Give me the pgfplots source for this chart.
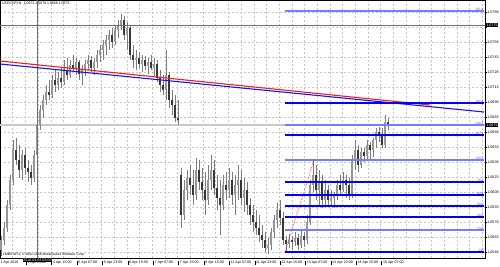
\documentclass[border=0pt]{standalone}
\usepackage{pgfplots}
\pgfplotsset{compat=1.18}
\usepackage{pgfplotstable}
\usepackage{fontspec}
\setmainfont{Liberation Sans}
\definecolor{wick}{RGB}{125,125,125}
\definecolor{upbody}{RGB}{150,150,150}
\definecolor{dnbody}{RGB}{55,55,55}
\definecolor{fibdark}{RGB}{0,0,255}
\definecolor{fiblight}{RGB}{115,125,255}
\definecolor{fibtext}{RGB}{90,90,235}
\definecolor{bidgray}{RGB}{200,200,205}
\definecolor{hlgray}{RGB}{110,110,110}
\definecolor{trred}{RGB}{240,30,30}
\definecolor{trblue}{RGB}{20,20,240}
\newcommand{\sep}{\rule[-0.6pt]{0.4pt}{4pt}\hspace{1.2pt}}

\pgfplotstableread{
x o h l c
1 1.0550 1.0564 1.0544 1.0560
4 1.0560 1.0578 1.0555 1.0572
7 1.0572 1.0600 1.0568 1.0595
10 1.0595 1.0625 1.0590 1.0620
13 1.0620 1.0660 1.0615 1.0650
16 1.0650 1.0662 1.0635 1.0640
19 1.0640 1.0655 1.0622 1.0630
22 1.0630 1.0650 1.0620 1.0645
25 1.0645 1.0652 1.0625 1.0632
28 1.0632 1.0640 1.0618 1.0628
31 1.0628 1.0635 1.0615 1.0622
34 1.0622 1.0650 1.0618 1.0645
37 1.0645 1.0680 1.0642 1.0675
40 1.0675 1.0695 1.0670 1.0690
43 1.0690 1.0705 1.0682 1.0700
46 1.0700 1.0715 1.0695 1.0708
49 1.0708 1.0720 1.0700 1.0705
52 1.0705 1.0725 1.0702 1.0720
55 1.0720 1.0730 1.0708 1.0715
58 1.0715 1.0728 1.0710 1.0722
61 1.0722 1.0732 1.0712 1.0718
64 1.0718 1.0740 1.0715 1.0730
67 1.0730 1.0742 1.0720 1.0725
70 1.0725 1.0740 1.0722 1.0735
73 1.0735 1.0745 1.0728 1.0732
76 1.0732 1.0742 1.0725 1.0738
79 1.0738 1.0740 1.0720 1.0726
82 1.0726 1.0735 1.0715 1.0730
85 1.0730 1.0740 1.0724 1.0736
88 1.0736 1.0745 1.0730 1.0740
91 1.0740 1.0744 1.0728 1.0732
94 1.0732 1.0742 1.0725 1.0738
97 1.0738 1.0750 1.0732 1.0745
100 1.0745 1.0755 1.0738 1.0750
103 1.0750 1.0760 1.0740 1.0755
106 1.0755 1.0765 1.0745 1.0760
109 1.0760 1.0770 1.0750 1.0765
112 1.0765 1.0772 1.0752 1.0758
115 1.0758 1.0775 1.0755 1.0770
118 1.0770 1.0780 1.0762 1.0775
121 1.0775 1.0786 1.0770 1.0780
124 1.0780 1.0784 1.0760 1.0765
127 1.0765 1.0778 1.0750 1.0772
130 1.0772 1.0775 1.0740 1.0745
133 1.0745 1.0755 1.0732 1.0740
136 1.0740 1.0750 1.0730 1.0742
139 1.0742 1.0748 1.0732 1.0736
142 1.0736 1.0745 1.0728 1.0740
145 1.0740 1.0744 1.0730 1.0734
148 1.0734 1.0742 1.0726 1.0738
151 1.0738 1.0745 1.0730 1.0732
154 1.0732 1.0742 1.0724 1.0736
157 1.0736 1.0740 1.0718 1.0722
160 1.0722 1.0730 1.0708 1.0715
163 1.0715 1.0725 1.0705 1.0710
166 1.0710 1.0750 1.0700 1.0725
169 1.0725 1.0728 1.0692 1.0700
172 1.0700 1.0710 1.0685 1.0695
175 1.0695 1.0705 1.0678 1.0682
178 1.0682 1.0700 1.0675 1.0680
181 1.0625 1.0632 1.0572 1.0585
184 1.0585 1.0620 1.0580 1.0610
187 1.0610 1.0630 1.0600 1.0622
190 1.0622 1.0635 1.0605 1.0615
193 1.0615 1.0630 1.0595 1.0605
196 1.0605 1.0642 1.0600 1.0630
199 1.0630 1.0640 1.0610 1.0618
202 1.0618 1.0632 1.0600 1.0610
205 1.0610 1.0628 1.0585 1.0600
208 1.0600 1.0635 1.0595 1.0620
211 1.0620 1.0645 1.0610 1.0630
214 1.0630 1.0640 1.0605 1.0612
217 1.0612 1.0625 1.0590 1.0602
220 1.0602 1.0620 1.0565 1.0595
223 1.0595 1.0625 1.0590 1.0615
226 1.0615 1.0628 1.0600 1.0610
229 1.0610 1.0632 1.0602 1.0620
232 1.0620 1.0628 1.0595 1.0605
235 1.0605 1.0625 1.0585 1.0615
238 1.0615 1.0635 1.0600 1.0620
241 1.0620 1.0630 1.0595 1.0602
244 1.0602 1.0622 1.0588 1.0610
247 1.0610 1.0618 1.0585 1.0595
250 1.0595 1.0602 1.0575 1.0585
253 1.0585 1.0595 1.0568 1.0578
256 1.0578 1.0590 1.0565 1.0572
259 1.0572 1.0585 1.0558 1.0565
262 1.0565 1.0575 1.0552 1.0560
265 1.0560 1.0568 1.0548 1.0552
268 1.0552 1.0562 1.0546 1.0555
271 1.0555 1.0572 1.0550 1.0568
274 1.0568 1.0585 1.0562 1.0580
277 1.0580 1.0597 1.0572 1.0590
280 1.0590 1.0600 1.0575 1.0582
283 1.0582 1.0588 1.0555 1.0560
286 1.0560 1.0564 1.0548 1.0556
289 1.0556 1.0566 1.0552 1.0560
292 1.0560 1.0564 1.0550 1.0558
295 1.0558 1.0568 1.0554 1.0562
298 1.0562 1.0566 1.0550 1.0555
301 1.0555 1.0570 1.0552 1.0564
304 1.0564 1.0568 1.0553 1.0560
307 1.0560 1.0585 1.0556 1.0578
310 1.0578 1.0620 1.0575 1.0615
313 1.0615 1.0640 1.0608 1.0625
316 1.0625 1.0635 1.0600 1.0610
319 1.0610 1.0630 1.0595 1.0618
322 1.0618 1.0625 1.0592 1.0600
325 1.0600 1.0620 1.0594 1.0610
328 1.0610 1.0615 1.0595 1.0600
331 1.0600 1.0610 1.0593 1.0602
334 1.0602 1.0608 1.0592 1.0605
337 1.0605 1.0620 1.0600 1.0615
340 1.0615 1.0625 1.0605 1.0610
343 1.0610 1.0628 1.0608 1.0620
346 1.0620 1.0625 1.0602 1.0615
349 1.0615 1.0622 1.0600 1.0605
352 1.0605 1.0645 1.0602 1.0640
355 1.0640 1.0660 1.0630 1.0650
358 1.0650 1.0655 1.0628 1.0635
361 1.0635 1.0652 1.0632 1.0648
364 1.0648 1.0652 1.0638 1.0644
367 1.0644 1.0660 1.0640 1.0655
370 1.0655 1.0658 1.0640 1.0650
373 1.0650 1.0662 1.0643 1.0660
376 1.0660 1.0672 1.0652 1.0668
379 1.0668 1.0673 1.0658 1.0665
382 1.0665 1.0672 1.0652 1.0655
385 1.0655 1.0685 1.0652 1.0678
388 1.0678 1.0682 1.0670 1.0675
}\candles

\begin{document}
\begin{tikzpicture}[font=\fontsize{3.6}{4.2}\selectfont]
\path[use as bounding box, fill=white] (0,0) rectangle (500pt,266pt);
\begin{axis}[
  at={(0pt,8pt)}, anchor=south west,
  scale only axis, width=485pt, height=258pt,
  xmin=0, xmax=485, ymin=1.0542, ymax=1.0800,
  clip=false,
  axis line style={black, line width=0.6pt},
  xtick={0,12.69,25.38,38.07,50.76,63.45,76.14,88.83,101.52,114.21,126.9,139.59,152.28,164.97,177.66,190.35,203.04,215.73,228.42,241.11,253.8,266.49,279.18,291.87,304.56,317.25,329.94,342.63,355.32,368.01,380.7,393.39,406.08,418.77,431.46,444.15,456.84,469.53,482.22},
  xticklabels={{1 Apr 2016},{},{\sep 1 Apr 23:00},{},{\sep 4 Apr 15:00},{},{\sep 5 Apr 07:00},{},{\sep 5 Apr 23:00},{},{\sep 6 Apr 15:00},{},{\sep 7 Apr 07:00},{},{\sep 7 Apr 23:00},{},{\sep 8 Apr 15:00},{},{\sep 11 Apr 07:00},{},{\sep 11 Apr 23:00},{},{\sep 12 Apr 15:00},{},{\sep 13 Apr 07:00},{},{\sep 13 Apr 23:00},{},{\sep 14 Apr 15:00},{},{\sep 15 Apr 07:00},{},{},{},{},{},{},{},{}},
  xtick style={draw=none},
  xticklabel style={anchor=north west, inner sep=0pt, yshift=-0.8pt, xshift=0.5pt},
  ytick={1.0548,1.0563,1.0578,1.0593,1.0608,1.0623,1.0638,1.0653,1.0668,1.0683,1.0698,1.0713,1.0728,1.0743,1.0758,1.0773,1.0788},
  yticklabels={1.0548,1.0563,1.0578,1.0593,1.0608,1.0623,1.0638,1.0653,1.0668,1.0683,1.0698,1.0713,1.0728,1.0743,1.0758,{},1.0788},
  ytick pos=right, yticklabel pos=right,
  ytick style={draw=black, line width=0.4pt},
  tick align=outside, major tick length=1.5pt,
  scaled y ticks=false,
  yticklabel style={anchor=west, inner sep=0.4pt, xshift=0.2pt, font=\fontsize{3.7}{4.2}\selectfont},
  grid=major,
  major grid style={gray!45, dash pattern=on 2pt off 2pt, line width=0.5pt},
]
% bid line
\addplot[bidgray, line width=1.4pt] coordinates {(0,1.0675) (485,1.0675)};
% candles: wicks, up bodies, down bodies
\addplot[draw=none, no marks, error bars/.cd, y dir=minus, y explicit, error mark=none,
  error bar style={draw=wick, line width=0.7pt, line cap=butt}]
  table[x=x, y=h, y error minus expr=\thisrow{h}-\thisrow{l}] {\candles};
\addplot[draw=none, no marks, restrict expr to domain={\thisrow{c}-\thisrow{o}}{0:1},
  error bars/.cd, y dir=minus, y explicit, error mark=none,
  error bar style={draw=upbody, line width=1.8pt, line cap=butt}]
  table[x=x, y=c, y error minus expr=\thisrow{c}-\thisrow{o}] {\candles};
\addplot[draw=none, no marks, restrict expr to domain={\thisrow{o}-\thisrow{c}}{0.000001:1},
  error bars/.cd, y dir=minus, y explicit, error mark=none,
  error bar style={draw=dnbody, line width=1.8pt, line cap=butt}]
  table[x=x, y=o, y error minus expr=\thisrow{o}-\thisrow{c}] {\candles};
% horizontal and vertical line objects
\addplot[hlgray, line width=1pt] coordinates {(0,1.0775) (485,1.0775)};
\addplot[hlgray, line width=0.8pt] coordinates {(37,1.0542) (37,1.0800)};
% trendlines
\addplot[trblue, line width=1.1pt] coordinates {(0,1.0736) (484,1.0688)};
\addplot[trred, line width=1.1pt] coordinates {(0,1.0739) (430,1.0695)};
% fibonacci expansion levels
\addplot[fibdark, line width=1.1pt] coordinates {(285,1.0548) (484,1.0548)};
\addplot[fiblight, line width=1.1pt] coordinates {(285,1.0570) (484,1.0570)};
\addplot[fibdark, line width=1.1pt] coordinates {(285,1.0583) (484,1.0583)};
\addplot[fibdark, line width=1.1pt] coordinates {(285,1.0594) (484,1.0594)};
\addplot[fibdark, line width=1.1pt] coordinates {(285,1.0605) (484,1.0605)};
\addplot[fibdark, line width=1.1pt] coordinates {(285,1.0618) (484,1.0618)};
\addplot[fiblight, line width=1.1pt] coordinates {(285,1.0640) (484,1.0640)};
\addplot[fibdark, line width=1.1pt] coordinates {(285,1.0665) (484,1.0665)};
\addplot[fiblight, line width=1.1pt] coordinates {(285,1.0675) (484,1.0675)};
\addplot[fibdark, line width=1.1pt] coordinates {(285,1.0697) (484,1.0697)};
\addplot[fiblight, line width=1.1pt] coordinates {(285,1.0789) (484,1.0789)};
\addplot[red, densely dotted, line width=0.6pt] coordinates {(285,1.0548) (314,1.0640)};
% fib labels
\begin{scope}[every node/.style={anchor=south east, inner sep=0.3pt, text=fibtext, font=\fontsize{3.2}{3.6}\selectfont}]
\node at (axis cs:484,1.0548) {0.0};
\node at (axis cs:484,1.0570) {23.6};
\node at (axis cs:484,1.0583) {38.2};
\node at (axis cs:484,1.0594) {50.0};
\node at (axis cs:484,1.0605) {61.8};
\node at (axis cs:484,1.0618) {76.4};
\node at (axis cs:484,1.0640) {100.0};
\node at (axis cs:484,1.0665) {127.2};
\node at (axis cs:484,1.0675) {138.2};
\node at (axis cs:484,1.0697) {161.8};
\node at (axis cs:484,1.0789) {261.8};
\end{scope}
% price boxes
\node[anchor=west, fill=black, text=white, inner sep=0.5pt, font=\fontsize{3.7}{4.2}\selectfont] at (axis cs:485.6,1.0775) {1.0775};
\node[anchor=west, fill=black, text=white, inner sep=0.5pt, font=\fontsize{3.7}{4.2}\selectfont] at (axis cs:485.6,1.0675) {1.0675};
% time box of vertical line
\node[anchor=north, fill=black, text=white, inner sep=0.6pt] at (axis cs:37.5,1.05415) {2016.04.04 06:00};
% title and copyright
\node[anchor=north west, inner sep=0pt, font=\fontsize{3.5}{3.9}\selectfont] at (axis cs:2,1.0798) {USDCHF,H1\ \ 1.0672 1.0679 1.0668 1.0675};
\node[anchor=south west, inner sep=0pt, font=\fontsize{3.4}{3.8}\selectfont] at (axis cs:3,1.0544) {LMBS MT4, \textcopyright\ 2001-2016 MetaQuotes Software Corp.};
\end{axis}
\end{tikzpicture}
\end{document}
